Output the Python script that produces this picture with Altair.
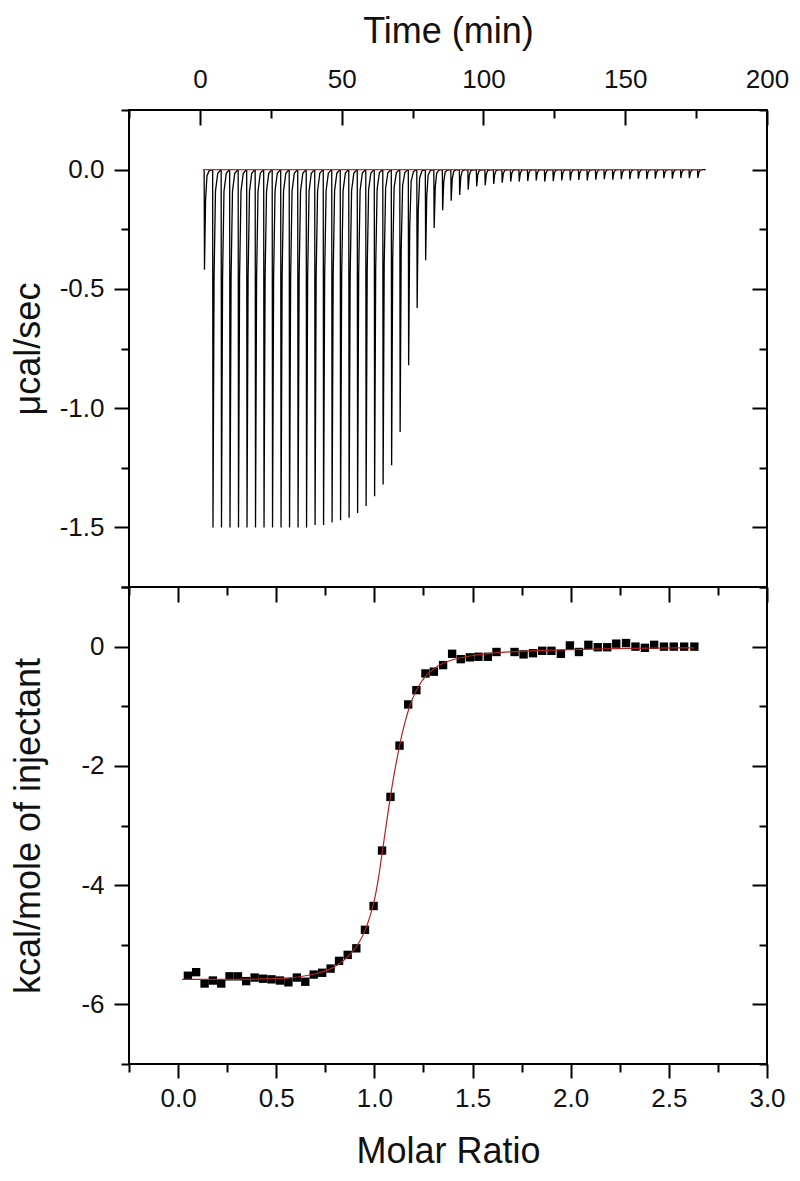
import altair as alt
import pandas as pd

FONT = "Liberation Sans"
W, H = 638, 477

# ---------------- top panel: raw thermogram ----------------
inj_time = [1.5, 4.5, 7.5, 10.5, 13.5, 16.5, 19.5, 22.5, 25.5, 28.5,
            31.5, 34.5, 37.5, 40.5, 43.5, 46.5, 49.5, 52.5, 55.5, 58.5,
            61.5, 64.5, 67.5, 70.5, 73.5, 76.5, 79.5, 82.5, 85.5, 88.5,
            91.5, 94.5, 97.5, 100.5, 103.5, 106.5, 109.5, 112.5, 115.5, 118.5,
            121.5, 124.5, 127.5, 130.5, 133.5, 136.5, 139.5, 142.5, 145.5, 148.5,
            151.5, 154.5, 157.5, 160.5, 163.5, 166.5, 169.5, 172.5, 175.5]
inj_peak = [-0.42, -1.50, -1.50, -1.50, -1.50, -1.50, -1.50, -1.50, -1.50, -1.50,
            -1.50, -1.50, -1.50, -1.49, -1.49, -1.48, -1.47, -1.46, -1.44, -1.41,
            -1.37, -1.32, -1.24, -1.10, -0.82, -0.58, -0.38, -0.245, -0.17, -0.13,
            -0.106, -0.084, -0.07, -0.065, -0.06, -0.055, -0.05, -0.05, -0.048, -0.045,
            -0.05, -0.048, -0.045, -0.045, -0.043, -0.045, -0.042, -0.04, -0.042, -0.04,
            -0.04, -0.038, -0.04, -0.038, -0.036, -0.038, -0.035, -0.036, -0.035]
# shape of one injection peak (time offset in min, fraction of the peak depth)
peak_dt = [0.0, 0.12, 0.5, 1.0, 1.8, 2.9]
peak_frac = [0.0, 1.0, 0.30, 0.06, 0.01, 0.0]
baseline_t = [1.0, 177.0]
baseline_v = [0.0, 0.0]

time_major = [0, 50, 100, 150, 200]
time_minor = [-25, 25, 75, 125, 175]
power_major = [0.0, -0.5, -1.0, -1.5]
power_minor = [0.25, -0.25, -0.75, -1.25, -1.75]

# ---------------- bottom panel: integrated heats ----------------
ratio = [0.050, 0.092, 0.135, 0.177, 0.220, 0.262, 0.305, 0.347, 0.390, 0.433,
         0.476, 0.519, 0.562, 0.605, 0.648, 0.691, 0.734, 0.777, 0.820, 0.864,
         0.908, 0.952, 0.996, 1.039, 1.082, 1.128, 1.172, 1.214, 1.260, 1.303,
         1.350, 1.396, 1.440, 1.486, 1.530, 1.578, 1.622, 1.714, 1.760, 1.808,
         1.855, 1.902, 1.950, 1.996, 2.042, 2.090, 2.138, 2.186, 2.232, 2.282,
         2.330, 2.378, 2.425, 2.475, 2.525, 2.578, 2.630]
heat = [-5.52, -5.46, -5.65, -5.60, -5.65, -5.53, -5.53, -5.61, -5.55, -5.57,
        -5.58, -5.60, -5.63, -5.55, -5.62, -5.50, -5.47, -5.40, -5.27, -5.17,
        -5.06, -4.75, -4.35, -3.42, -2.52, -1.66, -0.97, -0.73, -0.45, -0.42,
        -0.31, -0.12, -0.21, -0.18, -0.17, -0.17, -0.09, -0.09, -0.13, -0.11,
        -0.07, -0.07, -0.12, 0.02, -0.09, 0.03, -0.01, -0.01, 0.05, 0.06,
        0.0, -0.02, 0.03, 0.0, 0.0, 0.0, 0.0]
fit_ratio = [0.02, 0.2, 0.4, 0.55, 0.65, 0.72, 0.78, 0.84, 0.88, 0.92,
             0.95, 0.98, 1.00, 1.02, 1.04, 1.06, 1.08, 1.10, 1.12, 1.14,
             1.16, 1.18, 1.20, 1.23, 1.26, 1.30, 1.35, 1.40, 1.50, 1.60,
             1.80, 2.00, 2.30, 2.63]
fit_heat = [-5.58, -5.58, -5.575, -5.56, -5.52, -5.47, -5.40, -5.27, -5.15, -4.97,
            -4.78, -4.50, -4.25, -3.90, -3.45, -3.00, -2.55, -2.15, -1.80, -1.48,
            -1.22, -1.00, -0.83, -0.64, -0.50, -0.38, -0.28, -0.22, -0.15, -0.11,
            -0.07, -0.05, -0.03, -0.02]

ratio_major = [0.0, 0.5, 1.0, 1.5, 2.0, 2.5, 3.0]
ratio_minor = [-0.25, 0.25, 0.75, 1.25, 1.75, 2.25, 2.75]
heat_major = [0, -2, -4, -6]
heat_minor = [1, -1, -3, -5, -7]

# ---------------- tables ----------------
rows = []
k = 0
for t0, m in zip(inj_time, inj_peak):
    for dt, f in zip(peak_dt, peak_frac):
        rows.append({"t": t0 + dt, "v": m * f, "k": k})
        k += 1
raw_df = pd.DataFrame(rows)
base_df = pd.DataFrame({"t": baseline_t, "v": baseline_v})
top_frame = pd.DataFrame({"t": [-25, 200], "v": [-1.75, 0.25]})

pts_df = pd.DataFrame({"r": ratio, "h": heat})
fit_df = pd.DataFrame({"r": fit_ratio, "h": fit_heat})
bot_frame = pd.DataFrame({"r": [-0.25, 3.0], "h": [-7, 1]})

LBL1 = "datum.value < 0 ? '-' + format(-datum.value, '.1f') : format(datum.value, '.1f')"
LBL0 = "datum.value < 0 ? '-' + format(-datum.value, 'd') : format(datum.value, 'd')"

tscale = alt.Scale(domain=[-25, 200], nice=False, zero=False)
vscale = alt.Scale(domain=[-1.75, 0.25], nice=False, zero=False)
rscale = alt.Scale(domain=[-0.25, 3.0], nice=False, zero=False)
hscale = alt.Scale(domain=[-7, 1], nice=False, zero=False)


def tick_axis(orient, values, size, inward):
    kw = dict(orient=orient, values=values, tickSize=size, labels=False, title=None)
    if inward:
        kw["offset"] = -size
    return alt.Axis(**kw)


def carrier(df, xf, yf, xs, ys, xaxis, yaxis):
    return alt.Chart(df).mark_point(opacity=0, size=1, clip=True).encode(
        x=alt.X(xf, scale=xs, axis=xaxis),
        y=alt.Y(yf, scale=ys, axis=yaxis),
    )


# ---- top panel ----
raw_line = alt.Chart(raw_df).mark_line(color="black", strokeWidth=1.3, clip=True).encode(
    x=alt.X("t:Q", scale=tscale,
            axis=alt.Axis(orient="top", values=time_major, title="Time (min)",
                          offset=-15, tickSize=15, labelPadding=23,
                          labelBaseline="alphabetic", format="d",
                          titleY=-83, titleBaseline="alphabetic")),
    y=alt.Y("v:Q", scale=vscale,
            axis=alt.Axis(orient="left", values=power_major, title="μcal/sec",
                          tickSize=15, labelPadding=10, labelExpr=LBL1,
                          titleX=-90, titleBaseline="alphabetic")),
    order="k:Q",
)
base_line = alt.Chart(base_df).mark_line(color="#cc2a2a", strokeWidth=1.2).encode(
    x=alt.X("t:Q", scale=tscale, axis=None),
    y=alt.Y("v:Q", scale=vscale, axis=None),
)
top = alt.layer(
    raw_line,
    base_line,
    carrier(top_frame, "t:Q", "v:Q", tscale, vscale,
            tick_axis("top", time_minor, 8, True), tick_axis("left", power_minor, 8, False)),
    carrier(top_frame, "t:Q", "v:Q", tscale, vscale,
            None, tick_axis("right", power_major, 15, True)),
    carrier(top_frame, "t:Q", "v:Q", tscale, vscale,
            None, tick_axis("right", power_minor, 8, True)),
).resolve_axis(x="independent", y="independent").properties(width=W, height=H)

# ---- bottom panel ----
pts = alt.Chart(pts_df).mark_square(color="black", size=70, opacity=1).encode(
    x=alt.X("r:Q", scale=rscale,
            axis=alt.Axis(orient="bottom", values=ratio_major, title="Molar Ratio",
                          tickSize=14, labelPadding=28, labelBaseline="alphabetic",
                          labelExpr=LBL1, titleY=98, titleBaseline="alphabetic")),
    y=alt.Y("h:Q", scale=hscale,
            axis=alt.Axis(orient="left", values=heat_major, title="kcal/mole of injectant",
                          tickSize=15, labelPadding=10, labelExpr=LBL0,
                          titleX=-90, titleBaseline="alphabetic")),
)
fit_line = alt.Chart(fit_df).mark_line(color="#b22222", strokeWidth=1.2, interpolate="monotone").encode(
    x=alt.X("r:Q", scale=rscale, axis=None),
    y=alt.Y("h:Q", scale=hscale, axis=None),
)
bottom = alt.layer(
    pts,
    fit_line,
    carrier(bot_frame, "r:Q", "h:Q", rscale, hscale,
            tick_axis("bottom", ratio_minor, 8, False), tick_axis("left", heat_minor, 8, False)),
    carrier(bot_frame, "r:Q", "h:Q", rscale, hscale,
            tick_axis("top", ratio_major, 15, True), tick_axis("right", heat_major, 15, True)),
    carrier(bot_frame, "r:Q", "h:Q", rscale, hscale,
            tick_axis("top", ratio_minor, 8, True), tick_axis("right", heat_minor, 8, True)),
).resolve_axis(x="independent", y="independent").properties(width=W, height=H)

chart = alt.vconcat(top, bottom, spacing=0, bounds="flush").properties(
    padding={"left": 0, "top": 4, "right": 0, "bottom": 0}
).configure_view(
    stroke="black", strokeWidth=2
).configure_axis(
    labelFont=FONT, titleFont=FONT, labelFontSize=26, titleFontSize=36,
    titleFontWeight="normal", labelColor="#111111", titleColor="#111111",
    tickColor="black", tickWidth=2, domain=False, grid=False, labelFlush=False,
)

chart.save("out.html", embed_options={"renderer": "svg", "actions": False})
